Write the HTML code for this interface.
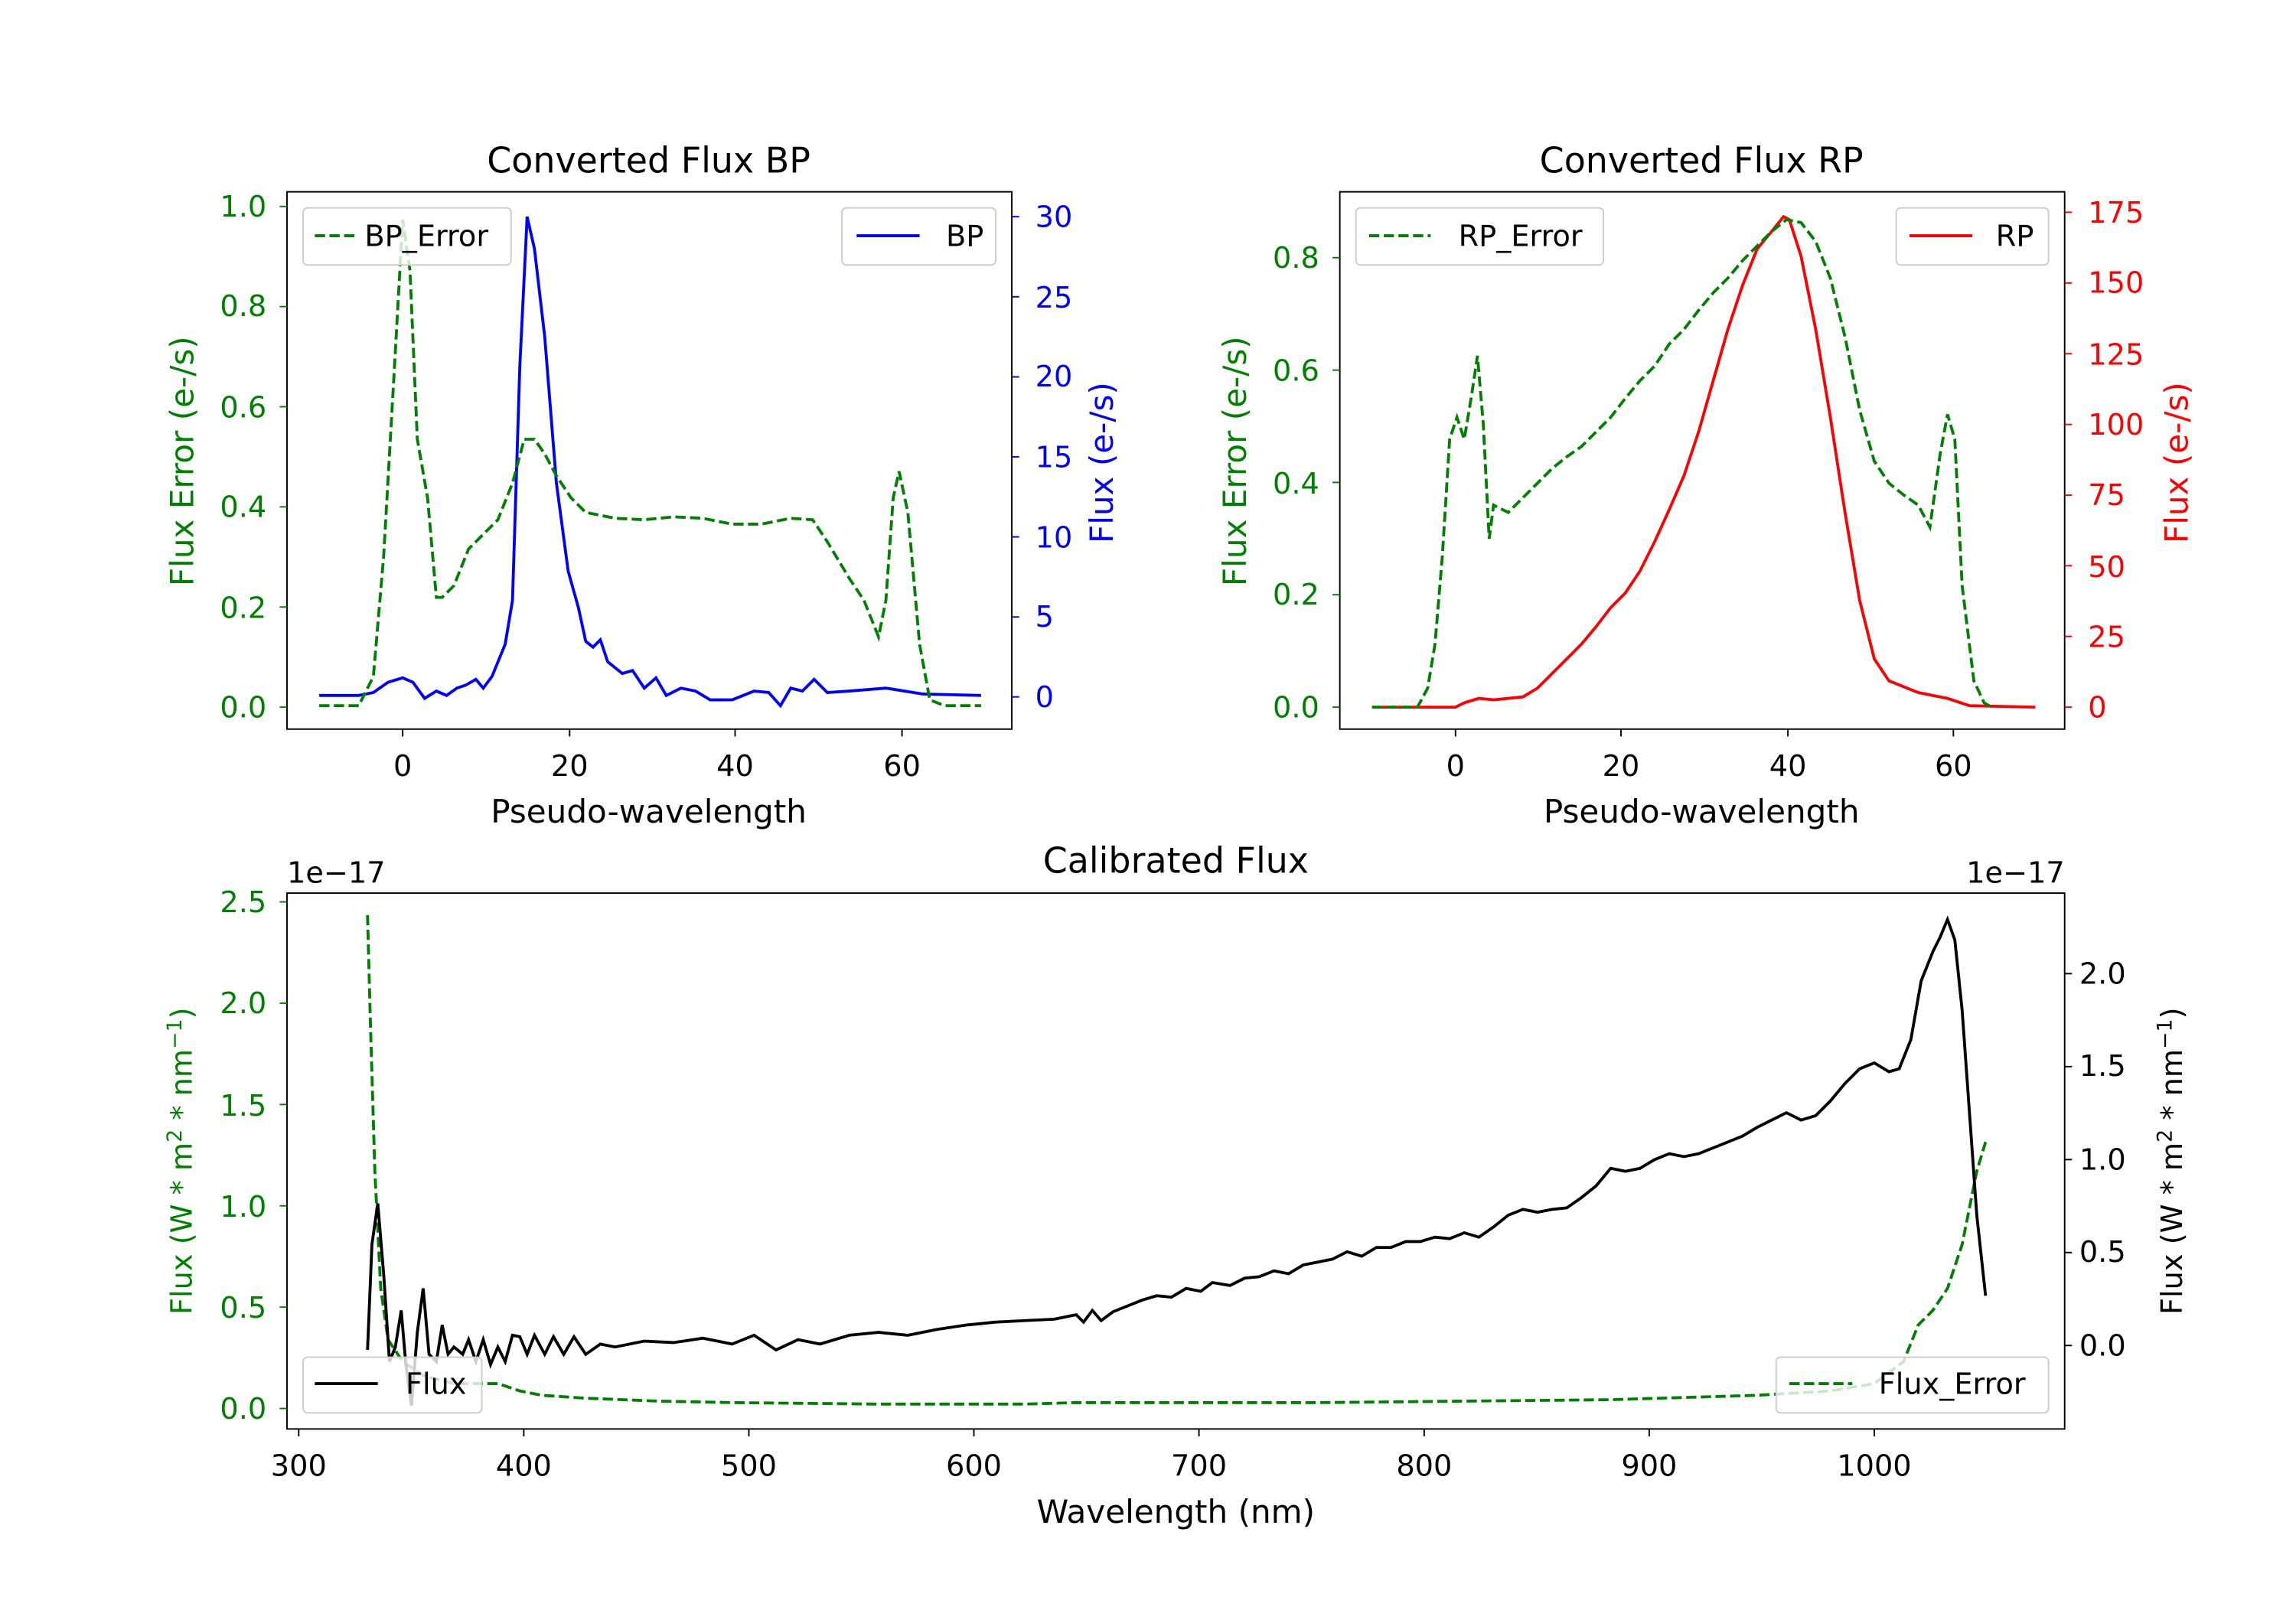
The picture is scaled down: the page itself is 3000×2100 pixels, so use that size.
<!DOCTYPE html>
<html><head><style>html,body{margin:0;padding:0;background:#fff}svg{display:block}text{font-family:"DejaVu Sans","Liberation Sans",sans-serif}</style></head>
<body>
<svg width="3000" height="2100" viewBox="0 0 1568 1097.6" preserveAspectRatio="none" xmlns="http://www.w3.org/2000/svg">
<rect width="1568" height="1098" fill="#fff"/>
<g font-size="20">
<!-- ============ TOP LEFT ============ -->
<text x="443" y="118" font-size="24" text-anchor="middle">Converted Flux BP</text>
<polyline fill="none" stroke="#0000ff" stroke-width="2" points="218,475 245,475 255,473 265,466 275,463 282,466 290,477 298,472 305,475 312,470 318,468 325,464 330,470 336,462 345,440 350,410 355,250 360,148 365,170 372,230 380,330 388,390 395,415 400,438 405,442 410,437 415,452 425,460 432,458 440,470 448,463 455,475 465,470 475,472 485,478 500,478 515,472 525,473 533,482 540,470 548,472 556,464 565,473 580,472 605,470 630,474 670,475"/>
<polyline fill="none" stroke="#008000" stroke-width="2" stroke-dasharray="7,3" points="218,482 245,482 255,462 262,380 270,240 275,150 280,185 285,300 292,340 298,408 302,408 310,400 320,375 330,365 340,355 350,330 358,300 365,300 372,310 380,325 390,340 400,350 420,354 440,355 460,353 480,354 500,358 520,358 540,354 555,355 565,370 580,395 590,410 600,435 605,410 610,340 614,322 620,350 628,440 635,478 645,482 670,482"/>
<rect x="196" y="131" width="495" height="367" fill="none" stroke="#000" stroke-width="1"/>
<g stroke="#000"><line x1="275" y1="498" x2="275" y2="503"/><line x1="389" y1="498" x2="389" y2="503"/><line x1="502" y1="498" x2="502" y2="503"/><line x1="616" y1="498" x2="616" y2="503"/></g>
<g text-anchor="middle"><text x="275" y="530">0</text><text x="389" y="530">20</text><text x="502" y="530">40</text><text x="616" y="530">60</text></g>
<text x="443" y="562" font-size="22" text-anchor="middle">Pseudo-wavelength</text>
<g stroke="#008000"><line x1="191" y1="483" x2="196" y2="483"/><line x1="191" y1="414.6" x2="196" y2="414.6"/><line x1="191" y1="346.2" x2="196" y2="346.2"/><line x1="191" y1="277.8" x2="196" y2="277.8"/><line x1="191" y1="209.4" x2="196" y2="209.4"/><line x1="191" y1="141" x2="196" y2="141"/></g>
<g fill="#008000" text-anchor="end"><text x="182" y="490">0.0</text><text x="182" y="422">0.2</text><text x="182" y="353">0.4</text><text x="182" y="285">0.6</text><text x="182" y="216">0.8</text><text x="182" y="148">1.0</text></g>
<text transform="translate(132,315) rotate(-90)" font-size="22" fill="#008000" text-anchor="middle">Flux Error (e-/s)</text>
<g stroke="#0000ff"><line x1="691" y1="476" x2="696" y2="476"/><line x1="691" y1="421.4" x2="696" y2="421.4"/><line x1="691" y1="366.7" x2="696" y2="366.7"/><line x1="691" y1="312" x2="696" y2="312"/><line x1="691" y1="257.4" x2="696" y2="257.4"/><line x1="691" y1="202.7" x2="696" y2="202.7"/><line x1="691" y1="148" x2="696" y2="148"/></g>
<g fill="#0000ff"><text x="707" y="483">0</text><text x="707" y="428">5</text><text x="707" y="374">10</text><text x="707" y="319">15</text><text x="707" y="264">20</text><text x="707" y="210">25</text><text x="707" y="155">30</text></g>
<text transform="translate(760,316) rotate(-90)" font-size="22" fill="#0000ff" text-anchor="middle">Flux (e-/s)</text>
<rect x="207" y="142" width="142" height="39" rx="3" fill="#fff" fill-opacity="0.8" stroke="#ccc"/>
<line x1="215" y1="161" x2="243" y2="161" stroke="#008000" stroke-width="2" stroke-dasharray="7,3"/><text x="249" y="168">BP_Error</text>
<rect x="575" y="142" width="105" height="39" rx="3" fill="#fff" fill-opacity="0.8" stroke="#ccc"/>
<line x1="585" y1="161" x2="628" y2="161" stroke="#0000ff" stroke-width="2"/><text x="646" y="168">BP</text>

<!-- ============ TOP RIGHT ============ -->
<text x="1162" y="118" font-size="24" text-anchor="middle">Converted Flux RP</text>
<polyline fill="none" stroke="#ff0000" stroke-width="2" points="937,483 994,483 1000,480 1010,477 1020,478 1040,476 1050,470 1060,460 1070,450 1080,440 1090,428 1100,415 1110,405 1120,390 1130,370 1140,348 1150,325 1160,295 1170,260 1180,225 1190,195 1200,170 1210,158 1218,148 1222,150 1230,175 1240,225 1250,285 1260,350 1270,410 1280,450 1290,465 1310,473 1330,477 1345,482 1390,483"/>
<polyline fill="none" stroke="#008000" stroke-width="2" stroke-dasharray="7,3" points="937,483 968,483 975,470 980,440 985,380 990,300 995,285 1000,300 1005,270 1009,243 1013,290 1017,368 1020,345 1030,350 1040,340 1050,330 1060,320 1070,312 1080,305 1090,295 1100,285 1110,272 1120,260 1130,250 1140,235 1150,225 1160,212 1170,200 1180,190 1190,178 1200,168 1210,158 1220,150 1230,152 1240,165 1250,190 1260,230 1270,280 1280,315 1290,330 1300,338 1310,345 1318,360 1325,310 1330,283 1335,300 1340,400 1348,465 1355,480 1360,483"/>
<rect x="915" y="131" width="495" height="367" fill="none" stroke="#000"/>
<g stroke="#000"><line x1="994" y1="498" x2="994" y2="503"/><line x1="1107" y1="498" x2="1107" y2="503"/><line x1="1221" y1="498" x2="1221" y2="503"/><line x1="1334" y1="498" x2="1334" y2="503"/></g>
<g text-anchor="middle"><text x="994" y="530">0</text><text x="1107" y="530">20</text><text x="1221" y="530">40</text><text x="1334" y="530">60</text></g>
<text x="1162" y="562" font-size="22" text-anchor="middle">Pseudo-wavelength</text>
<g stroke="#008000"><line x1="910" y1="483" x2="915" y2="483"/><line x1="910" y1="406.2" x2="915" y2="406.2"/><line x1="910" y1="329.5" x2="915" y2="329.5"/><line x1="910" y1="252.8" x2="915" y2="252.8"/><line x1="910" y1="176" x2="915" y2="176"/></g>
<g fill="#008000" text-anchor="end"><text x="901" y="490">0.0</text><text x="901" y="413">0.2</text><text x="901" y="337">0.4</text><text x="901" y="260">0.6</text><text x="901" y="183">0.8</text></g>
<text transform="translate(851,315) rotate(-90)" font-size="22" fill="#008000" text-anchor="middle">Flux Error (e-/s)</text>
<g stroke="#ff0000"><line x1="1410" y1="483" x2="1415" y2="483"/><line x1="1410" y1="434.7" x2="1415" y2="434.7"/><line x1="1410" y1="386.4" x2="1415" y2="386.4"/><line x1="1410" y1="338.2" x2="1415" y2="338.2"/><line x1="1410" y1="289.9" x2="1415" y2="289.9"/><line x1="1410" y1="241.6" x2="1415" y2="241.6"/><line x1="1410" y1="193.3" x2="1415" y2="193.3"/><line x1="1410" y1="145" x2="1415" y2="145"/></g>
<g fill="#ff0000"><text x="1426" y="490">0</text><text x="1426" y="442">25</text><text x="1426" y="394">50</text><text x="1426" y="345">75</text><text x="1426" y="297">100</text><text x="1426" y="249">125</text><text x="1426" y="200">150</text><text x="1426" y="152">175</text></g>
<text transform="translate(1494,316) rotate(-90)" font-size="22" fill="#ff0000" text-anchor="middle">Flux (e-/s)</text>
<rect x="926" y="142" width="169" height="39" rx="3" fill="#fff" fill-opacity="0.8" stroke="#ccc"/>
<line x1="935" y1="161" x2="977" y2="161" stroke="#008000" stroke-width="2" stroke-dasharray="7,3"/><text x="996" y="168">RP_Error</text>
<rect x="1295" y="142" width="104" height="39" rx="3" fill="#fff" fill-opacity="0.8" stroke="#ccc"/>
<line x1="1304" y1="161" x2="1347" y2="161" stroke="#ff0000" stroke-width="2"/><text x="1363" y="168">RP</text>

<!-- ============ BOTTOM ============ -->
<text x="803" y="596" font-size="24" text-anchor="middle">Calibrated Flux</text>
<polyline fill="none" stroke="#008000" stroke-width="2" stroke-dasharray="7,3" points="251,625 253,700 256,800 260,880 265,915 275,930 290,940 310,945 340,945 355,950 370,953 400,955 450,957 500,958 600,959 700,959 735,958 900,958 1000,957 1100,956 1200,953 1250,950 1280,945 1300,930 1310,905 1320,895 1330,880 1340,850 1350,800 1356,780"/>
<polyline fill="none" stroke="#000" stroke-width="2" points="251,922 254,850 258,822 262,870 266,930 270,920 274,895 277,930 281,960 285,910 289,880 293,925 298,930 302,905 306,925 310,920 316,925 320,915 325,930 330,915 335,932 340,920 345,930 350,912 355,913 360,925 365,912 372,925 378,913 385,925 392,913 400,925 410,918 420,920 440,916 460,917 480,914 500,918 515,912 530,922 545,915 560,918 580,912 600,910 620,912 640,908 660,905 680,903 700,902 720,901 735,898 740,903 746,895 752,902 760,896 770,892 780,888 790,885 800,886 810,880 820,882 828,876 840,878 850,873 860,872 870,868 880,870 890,864 900,862 910,860 920,855 930,858 940,852 950,852 960,848 970,848 980,845 990,846 1000,842 1010,845 1020,838 1030,830 1040,826 1050,828 1060,826 1070,825 1080,818 1090,810 1100,798 1110,800 1120,798 1130,792 1140,788 1150,790 1160,788 1170,784 1180,780 1190,776 1200,770 1210,765 1220,760 1230,765 1240,762 1250,752 1260,740 1270,730 1280,726 1290,732 1297,730 1305,710 1312,670 1320,650 1325,640 1330,628 1335,642 1340,690 1345,760 1350,830 1356,885"/>
<rect x="196" y="610" width="1214" height="366" fill="none" stroke="#000"/>
<g stroke="#000"><line x1="204" y1="976" x2="204" y2="981"/><line x1="357.7" y1="976" x2="357.7" y2="981"/><line x1="511.4" y1="976" x2="511.4" y2="981"/><line x1="665.1" y1="976" x2="665.1" y2="981"/><line x1="818.8" y1="976" x2="818.8" y2="981"/><line x1="972.6" y1="976" x2="972.6" y2="981"/><line x1="1126.3" y1="976" x2="1126.3" y2="981"/><line x1="1280" y1="976" x2="1280" y2="981"/></g>
<g text-anchor="middle"><text x="204" y="1008">300</text><text x="357.7" y="1008">400</text><text x="511.4" y="1008">500</text><text x="665.1" y="1008">600</text><text x="818.8" y="1008">700</text><text x="972.6" y="1008">800</text><text x="1126.3" y="1008">900</text><text x="1280" y="1008">1000</text></g>
<text x="803" y="1040" font-size="22" text-anchor="middle">Wavelength (nm)</text>
<g stroke="#008000"><line x1="191" y1="962" x2="196" y2="962"/><line x1="191" y1="892.8" x2="196" y2="892.8"/><line x1="191" y1="823.6" x2="196" y2="823.6"/><line x1="191" y1="754.4" x2="196" y2="754.4"/><line x1="191" y1="685.2" x2="196" y2="685.2"/><line x1="191" y1="616" x2="196" y2="616"/></g>
<g fill="#008000" text-anchor="end"><text x="182" y="969">0.0</text><text x="182" y="900">0.5</text><text x="182" y="831">1.0</text><text x="182" y="762">1.5</text><text x="182" y="692">2.0</text><text x="182" y="623">2.5</text></g>
<text x="196" y="603">1e−17</text>
<text transform="translate(131,793) rotate(-90)" font-size="20" fill="#008000" text-anchor="middle">Flux (W * m<tspan dy="-7" font-size="14">2</tspan><tspan dy="7"> * nm</tspan><tspan dy="-7" font-size="14">−1</tspan><tspan dy="7">)</tspan></text>
<g stroke="#000"><line x1="1410" y1="919" x2="1415" y2="919"/><line x1="1410" y1="855.5" x2="1415" y2="855.5"/><line x1="1410" y1="792" x2="1415" y2="792"/><line x1="1410" y1="728.5" x2="1415" y2="728.5"/><line x1="1410" y1="665" x2="1415" y2="665"/></g>
<g><text x="1420" y="926">0.0</text><text x="1420" y="862">0.5</text><text x="1420" y="799">1.0</text><text x="1420" y="735">1.5</text><text x="1420" y="672">2.0</text></g>
<text x="1410" y="603" text-anchor="end">1e−17</text>
<text transform="translate(1490,793) rotate(-90)" font-size="20" text-anchor="middle">Flux (W * m<tspan dy="-7" font-size="14">2</tspan><tspan dy="7"> * nm</tspan><tspan dy="-7" font-size="14">−1</tspan><tspan dy="7">)</tspan></text>
<rect x="207" y="927" width="122" height="38" rx="3" fill="#fff" fill-opacity="0.8" stroke="#ccc"/>
<line x1="215" y1="945" x2="258" y2="945" stroke="#000" stroke-width="2"/><text x="277" y="952">Flux</text>
<rect x="1213" y="927" width="186" height="38" rx="3" fill="#fff" fill-opacity="0.8" stroke="#ccc"/>
<line x1="1222" y1="945" x2="1265" y2="945" stroke="#008000" stroke-width="2" stroke-dasharray="7,3"/><text x="1283" y="952">Flux_Error</text>
</g>
</svg>
</body></html>
